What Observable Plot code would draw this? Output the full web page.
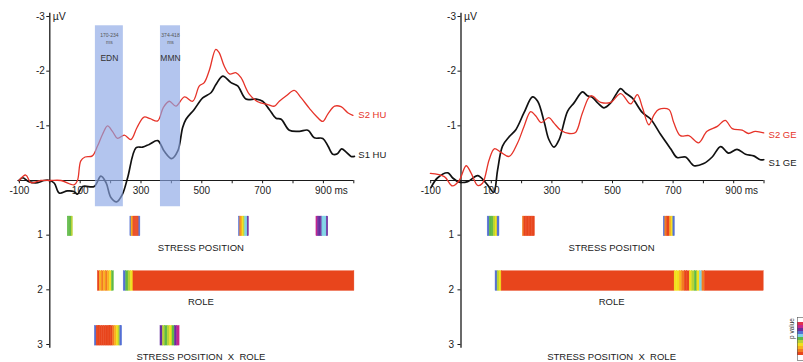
<!DOCTYPE html>
<html><head><meta charset="utf-8">
<script src="https://cdn.jsdelivr.net/npm/d3@7"></script>
<script src="https://cdn.jsdelivr.net/npm/@observablehq/plot@0.6"></script>
<style>
body{margin:0;background:#fff;}
#wrap{position:relative;width:803px;height:362px;overflow:hidden;background:#fff;}
#wrap svg{position:absolute;top:0;}
</style></head><body><div id="wrap"></div>
<script>
// ---------- data ----------
const X_TICKS = [-100,0,100,200,300,400,500,600,700,800,900,1000];
const X_LABELS = [-100,100,300,500,700,900];
const X_LABEL_TEXT = ["-100","100","300","500","700","900"];
const Y_TICKS_TOP = [-3,-2,-1];
const Y_TICKS_TOP_TEXT = ["-3","-2","-1"];
const Y_TICKS_BOTTOM = [1,2,3];
const Y_TICKS_BOTTOM_TEXT = ["1","2","3"];
const FACTORS = ["STRESS POSITION","ROLE","STRESS POSITION\u00a0\u00a0X\u00a0\u00a0ROLE"];
const FACTOR_ROWS = [1,2,3];

// ERP waveforms [ms, µV] (negative up)
const S2_HU = [[-101,0.0],[-79,-0.1],[-62,0.04],[-30,0.0],[0,0.0],[37,0.0],[80,0.08],[91,0.0],[102,-0.36],[116,-0.43],[140,-0.45],[157,-0.63],[174,-0.85],[190,-1.0],[206,-0.9],[223,-0.77],[245,-0.83],[267,-0.75],[287,-0.97],[310,-1.16],[330,-1.13],[355,-1.09],[373,-1.33],[393,-1.45],[415,-1.36],[443,-1.53],[470,-1.45],[492,-1.73],[508,-1.79],[525,-2.02],[546,-2.40],[557,-2.34],[574,-2.09],[591,-1.95],[613,-1.97],[629,-1.88],[656,-1.58],[684,-1.44],[717,-1.39],[739,-1.36],[755,-1.45],[778,-1.55],[804,-1.65],[827,-1.51],[854,-1.32],[876,-1.18],[898,-1.08],[915,-1.22],[937,-1.36],[958,-1.35],[980,-1.24],[997,-1.19]];
const S1_HU = [[-102,0.0],[-89,-0.05],[-69,0.02],[-40,0.04],[-19,0.0],[0,0.0],[15,0.05],[31,0.23],[58,0.19],[79,0.2],[91,0.25],[108,0.11],[146,0.11],[168,-0.08],[185,0.04],[201,0.31],[220,0.39],[239,0.25],[256,-0.05],[284,-0.6],[305,-0.61],[327,-0.66],[355,-0.73],[376,-0.54],[401,-0.4],[421,-0.54],[437,-0.97],[448,-1.12],[475,-1.3],[503,-1.51],[531,-1.61],[546,-1.75],[569,-1.91],[596,-1.79],[618,-1.73],[645,-1.49],[679,-1.49],[700,-1.45],[722,-1.3],[744,-1.14],[761,-1.12],[788,-0.92],[821,-0.9],[849,-0.92],[870,-0.78],[898,-0.77],[915,-0.63],[931,-0.48],[946,-0.49],[960,-0.58],[975,-0.52],[991,-0.44],[1002,-0.44]];
const S2_GE = [[-101,-0.13],[-55,-0.07],[-28,0.1],[-6,0.0],[17,-0.27],[33,-0.14],[55,0.09],[71,0.05],[93,-0.38],[110,-0.58],[131,-0.52],[159,-0.44],[187,-0.69],[208,-0.99],[230,-1.26],[247,-1.18],[264,-1.06],[290,-1.15],[307,-1.05],[329,-0.92],[357,-0.86],[378,-0.88],[401,-1.24],[428,-1.55],[461,-1.43],[494,-1.43],[527,-1.59],[560,-1.4],[582,-1.57],[599,-1.33],[620,-1.02],[637,-1.2],[653,-1.3],[686,-1.3],[702,-1.06],[724,-0.82],[752,-0.82],[784,-0.69],[812,-0.9],[846,-0.99],[872,-1.1],[895,-0.95],[928,-0.92],[949,-0.86],[971,-0.9],[999,-0.87]];
const S1_GE = [[-99,0.13],[-77,-0.05],[-43,-0.14],[-28,-0.05],[-6,0.03],[22,0.02],[55,-0.09],[77,0.01],[94,0.13],[108,0.22],[121,-0.2],[137,-0.63],[159,-0.8],[181,-0.93],[208,-1.24],[236,-1.53],[253,-1.45],[275,-1.06],[290,-0.75],[307,-0.61],[324,-0.75],[352,-1.27],[373,-1.42],[401,-1.62],[417,-1.55],[434,-1.52],[451,-1.42],[472,-1.33],[494,-1.42],[511,-1.57],[527,-1.68],[543,-1.6],[565,-1.51],[599,-1.24],[625,-1.13],[659,-0.84],[692,-0.58],[713,-0.42],[741,-0.43],[769,-0.27],[801,-0.31],[829,-0.43],[857,-0.62],[883,-0.5],[911,-0.57],[939,-0.48],[966,-0.45],[988,-0.38],[999,-0.38]];

// analysis windows (ms)
const HU_BANDS = [{t0:150,t1:242,range:"170-234",name:"EDN"},{t0:364,t1:430,range:"374-418",name:"MMN"}];

// p-value colour index per stripe (0 = smallest p)
const P_INDEX = [0,1,2,3,4,5,6,7,8,9,10];
const P_COLORS = ["#e8451c","#f27c20","#f9b21e","#f2e01c","#b7d333","#5fb946","#7fd3e6","#5570d4","#6a2d9f","#c3258e","#e0304d"];
const SIG_HU = [
  {row:1,t0:59,t1:76,p:"5554"},
  {row:1,t0:265,t1:298,p:"721000007"},
  {row:1,t0:622,t1:655,p:"71234668"},
  {row:1,t0:877,t1:916,p:"98886668"},
  {row:2,t0:158,t1:211,p:"02121235"},
  {row:2,t0:243,t1:275,p:"7543"},
  {row:2,t0:275,t1:1002,p:"0"},
  {row:3,t0:148,t1:238,p:"700000000012347"},
  {row:3,t0:364,t1:427,p:"84543589"}
];
const SIG_GE = [
  {row:1,t0:88,t1:127,p:"755437"},
  {row:1,t0:204,t1:244,p:"10000000"},
  {row:1,t0:669,t1:706,p:"7100237"},
  {row:2,t0:114,t1:134,p:"743"},
  {row:2,t0:134,t1:705,p:"0"},
  {row:2,t0:705,t1:805,p:"332100345361"},
  {row:2,t0:805,t1:999,p:"0"}
];

// ---------- style ----------
const FONT = "'Liberation Sans', Arial, sans-serif";
const AXIS = "#1a1a1a", TEXT = "#222", RED = "#e63329", BLACK = "#111";

function panel(cfg) {
  const stripes = [];
  for (const s of cfg.sig) {
    const n = s.p.length, w = (s.t1 - s.t0) / n;
    for (let i = 0; i < n; i++) stripes.push({x1: s.t0 + i*w, x2: s.t0 + (i+1)*w, y1: s.row - 0.34, y2: s.row + 0.02, p: parseInt(s.p[i], 16)});
  }
  const marks = [
    Plot.rect(stripes, {x1:"x1", x2:"x2", y1:"y1", y2:"y2", fill:"p", stroke:"p", strokeWidth:0.4}),
    Plot.ruleY([0], {x1: cfg.axisStart, x2: 1000, stroke: AXIS, strokeWidth: 1.2}),
    Plot.ruleX(X_TICKS, {y1: 0, y2: 0.06, stroke: AXIS}),
    Plot.ruleX([0], {y1: -3.06, y2: 3.07, stroke: AXIS, strokeWidth: 1.3}),
    Plot.ruleY(Y_TICKS_TOP.concat(Y_TICKS_BOTTOM), {x1: -10, x2: 0, stroke: AXIS}),
    Plot.line(cfg.s1, {x: d => d[0], y: d => d[1], stroke: BLACK, strokeWidth: 1.7, curve: "catmull-rom"}),
    Plot.line(cfg.s2, {x: d => d[0], y: d => d[1], stroke: RED, strokeWidth: 1.3, curve: "catmull-rom"}),
    Plot.rect(cfg.bands, {x1:"t0", x2:"t1", y1: -2.83, y2: 0.48, fill: "#8aa6e5", fillOpacity: 0.65}),
    Plot.text(cfg.bands, {x: d => (d.t0 + d.t1)/2, y: -2.66, text: "range", fontSize: 5, fill: "#555"}),
    Plot.text(cfg.bands, {x: d => (d.t0 + d.t1)/2, y: -2.52, text: () => "ms", fontSize: 5, fill: "#555"}),
    Plot.text(cfg.bands, {x: d => (d.t0 + d.t1)/2, y: -2.24, text: "name", fontSize: 8.5, fill: "#333"}),
    Plot.text(X_LABELS, {x: d => d, y: 0, dy: 10, text: (d, i) => X_LABEL_TEXT[i], fontSize: 10, fill: TEXT}),
    Plot.text(["ms"], {x: 900, y: 0, dy: 10, dx: 11, text: d => d, textAnchor: "start", fontSize: 10, fill: TEXT}),
    Plot.text(Y_TICKS_TOP, {x: 0, y: d => d, dx: -5, text: (d, i) => Y_TICKS_TOP_TEXT[i], textAnchor: "end", fontSize: 10, fill: TEXT}),
    Plot.text(Y_TICKS_BOTTOM, {x: 0, y: d => d, dx: -7, text: (d, i) => Y_TICKS_BOTTOM_TEXT[i], textAnchor: "end", fontSize: 10, fill: TEXT}),
    Plot.text(["\u00b5V"], {x: 0, y: -3, dx: 3, text: d => d, textAnchor: "start", fontSize: 10.5, fill: TEXT}),
    Plot.text([cfg.s2name], {x: 1015, y: cfg.s2y, text: d => d, textAnchor: "start", fontSize: 9.5, fill: RED}),
    Plot.text([cfg.s1name], {x: 1015, y: cfg.s1y, text: d => d, textAnchor: "start", fontSize: 9.5, fill: TEXT}),
    Plot.text(FACTORS, {x: 497, y: (d, i) => FACTOR_ROWS[i] + 0.23, text: d => d, fontSize: 9.5, fill: TEXT})
  ];
  return Plot.plot({
    width: cfg.width, height: 362,
    marginLeft: cfg.ml, marginRight: cfg.mr, marginTop: 16, marginBottom: 18,
    x: {domain: [-100, 1000], axis: null},
    y: {domain: [-3, 3], reverse: true, axis: null},
    color: {type: "ordinal", domain: P_INDEX, range: P_COLORS},
    style: {fontFamily: FONT, fontSize: "10px", overflow: "visible", background: "transparent"},
    marks
  });
}

const wrap = document.getElementById("wrap");
const left = panel({width: 400, ml: 18.9, mr: 46.7, s1: S1_HU, s2: S2_HU, bands: HU_BANDS, sig: SIG_HU,
  axisStart: -105, s1name: "S1 HU", s2name: "S2 HU", s1y: -0.47, s2y: -1.2});
left.style.left = "0px";
wrap.appendChild(left);
const right = panel({width: 403, ml: 30.2, mr: 39.5, s1: S1_GE, s2: S2_GE, bands: [], sig: SIG_GE,
  axisStart: -100, s1name: "S1 GE", s2name: "S2 GE", s1y: -0.33, s2y: -0.84});
right.style.left = "400px";
wrap.appendChild(right);

// p-value colour bar
const bar = Plot.plot({
  width: 20, height: 47, marginLeft: 14, marginRight: 0, marginTop: 2, marginBottom: 2,
  y: {domain: P_INDEX.slice().reverse(), axis: null, padding: 0},
  color: {type: "ordinal", domain: P_INDEX, range: P_COLORS},
  style: {fontFamily: FONT, overflow: "visible", background: "transparent"},
  marks: [
    Plot.cell(P_INDEX, {y: d => d, fill: d => d}),
    Plot.frame({stroke: "#555", strokeWidth: 0.6}),
    Plot.text(["p value"], {frameAnchor: "left", dx: -6, rotate: -90, text: d => d, fontSize: 6.5, fill: "#333"})
  ]
});
bar.style.left = "783px";
bar.style.top = "315px";
wrap.appendChild(bar);
</script>
</body></html>
